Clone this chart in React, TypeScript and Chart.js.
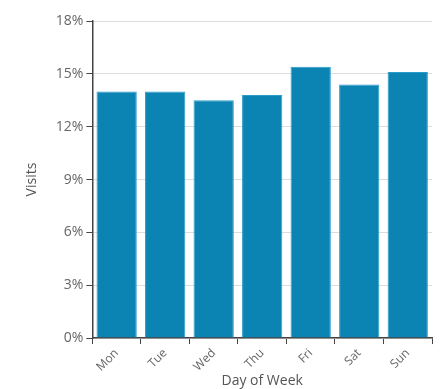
import React, { useEffect, useRef } from "react";
import { Chart, registerables } from "chart.js";

Chart.register(...registerables);

const days = ["Mon", "Tue", "Wed", "Thu", "Fri", "Sat", "Sun"];
const visits = [14.0, 14.0, 13.5, 13.8, 15.4, 14.4, 15.1];
const yTicks = [0, 3, 6, 9, 12, 15, 18];

export default function App() {
  const ref = useRef<HTMLCanvasElement | null>(null);
  useEffect(() => {
    document.body.style.margin = "0";
    const font = "'Open Sans', 'Noto Sans', sans-serif";
    const chart = new Chart(ref.current as HTMLCanvasElement, {
      type: "bar",
      data: {
        labels: days,
        datasets: [
          {
            data: visits,
            backgroundColor: "#0b84b3",
            borderColor: "#2a9ccb",
            borderWidth: 1,
            categoryPercentage: 1,
            barPercentage: 0.83,
          },
        ],
      },
      options: {
        animation: false,
        responsive: false,
        maintainAspectRatio: false,
        layout: { padding: { top: 21, right: 9, left: 24, bottom: 0 } },
        plugins: { legend: { display: false }, tooltip: { enabled: false } },
        scales: {
          x: {
            offset: true,
            grid: {
              display: true,
              drawOnChartArea: false,
              drawTicks: true,
              tickLength: 6,
              color: "#444",
              offset: true,
            },
            border: { display: true, color: "#444", width: 1.5 },
            ticks: {
              color: "#666",
              font: { family: font, size: 12 },
              minRotation: 45,
              maxRotation: 45,
              padding: 2,
            },
            title: {
              display: true,
              text: "Day of Week",
              color: "#555",
              font: { family: font, size: 14 },
              padding: { top: -4, bottom: 0 },
            },
          },
          y: {
            min: 0,
            max: 18,
            afterBuildTicks: (axis: any) => {
              axis.ticks = yTicks.map((v) => ({ value: v }));
            },
            grid: {
              color: "#dcdcdc",
              tickColor: "#444",
              tickLength: 6,
              drawTicks: true,
            },
            border: { display: true, color: "#444", width: 1.5 },
            ticks: {
              color: "#666",
              font: { family: font, size: 14 },
              callback: (v: any) => v + "%",
              padding: 3,
            },
            title: {
              display: true,
              text: "Visits",
              color: "#555",
              font: { family: font, size: 14 },
              padding: { top: 0, bottom: 12 },
            },
          },
        },
      },
    });
    return () => chart.destroy();
  }, []);
  return (
    <div style={{ width: 441, height: 389 }}>
      <canvas ref={ref} width={441} height={389} />
    </div>
  );
}
